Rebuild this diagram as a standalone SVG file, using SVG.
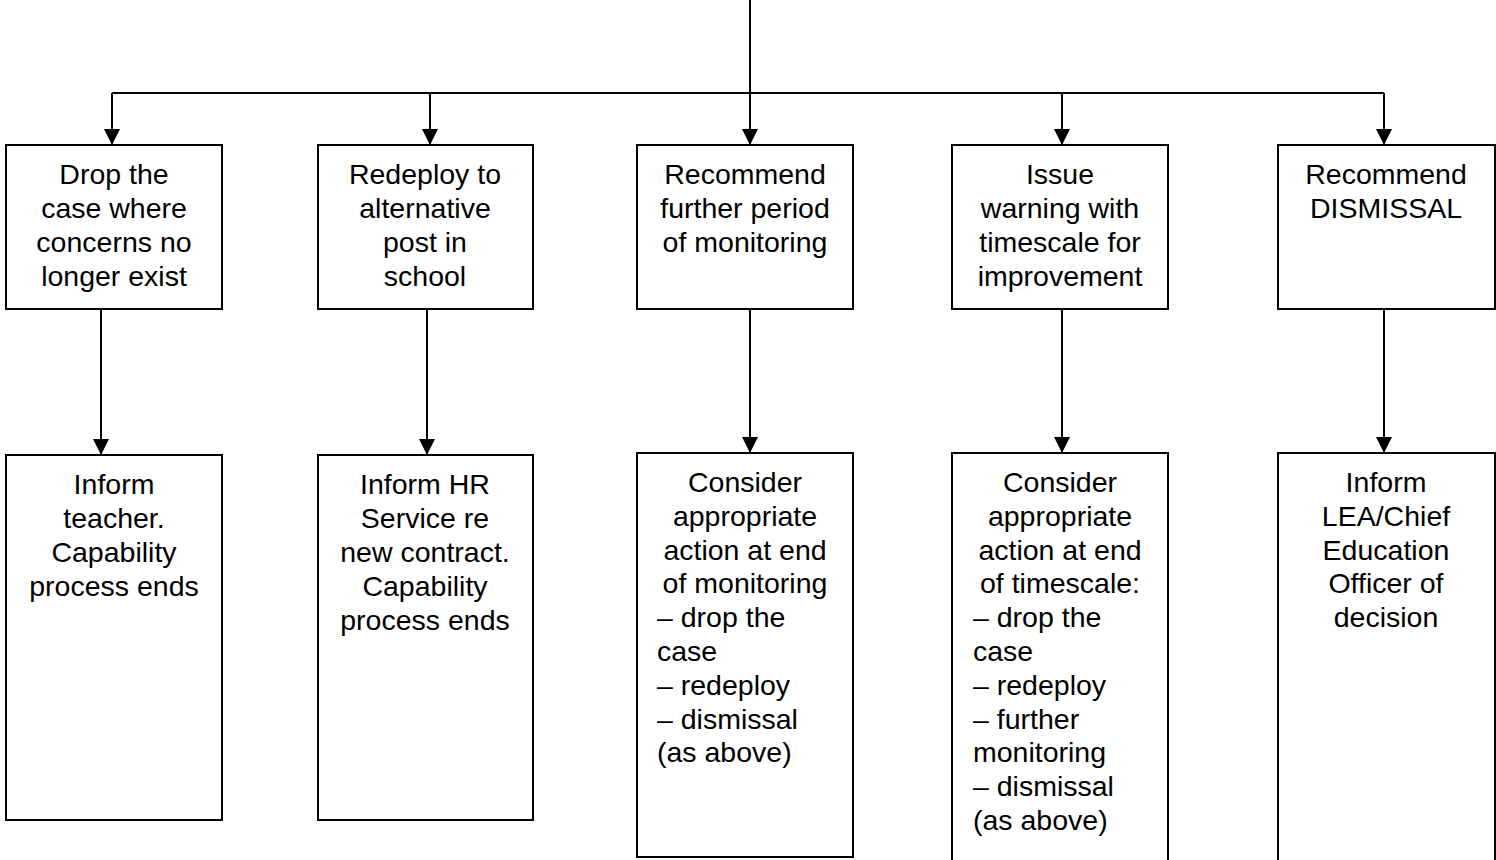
<svg xmlns="http://www.w3.org/2000/svg" width="1496" height="860" viewBox="0 0 1496 860">
<style>
rect.box { fill: #ffffff; stroke: #000000; stroke-width: 2; }
.conn { fill: none; stroke: #000000; stroke-width: 2; }
text { font-family: "Liberation Sans", Arial, sans-serif; font-size: 28.5px; fill: #000000; }
.c { text-anchor: middle; }
</style>
<defs>
<marker id="arr" markerUnits="userSpaceOnUse" markerWidth="16" markerHeight="16" refX="16" refY="8" orient="auto">
<path d="M0,0 L16,8 L0,16 Z" fill="#000000"/>
</marker>
</defs>
<rect width="1496" height="860" fill="#ffffff"/>
<g id="connectors">
<path class="conn" d="M750,0 V145" marker-end="url(#arr)"/>
<path class="conn" d="M112,93 H1384"/>
<path class="conn" d="M112,93 V145" marker-end="url(#arr)"/>
<path class="conn" d="M430,93 V145" marker-end="url(#arr)"/>
<path class="conn" d="M1062,93 V145" marker-end="url(#arr)"/>
<path class="conn" d="M1384,93 V145" marker-end="url(#arr)"/>
<path class="conn" d="M101,309 V455" marker-end="url(#arr)"/>
<path class="conn" d="M427,309 V455" marker-end="url(#arr)"/>
<path class="conn" d="M750,309 V453" marker-end="url(#arr)"/>
<path class="conn" d="M1062,309 V453" marker-end="url(#arr)"/>
<path class="conn" d="M1384,309 V453" marker-end="url(#arr)"/>
</g>
<g id="drop">
<rect class="box" x="6" y="145" width="216" height="164"/>
<text class="c" x="114" y="184">Drop the</text>
<text class="c" x="114" y="218">case where</text>
<text class="c" x="114" y="252">concerns no</text>
<text class="c" x="114" y="286">longer exist</text>
</g>
<g id="redeploy">
<rect class="box" x="318" y="145" width="215" height="164"/>
<text class="c" x="425" y="184">Redeploy to</text>
<text class="c" x="425" y="218">alternative</text>
<text class="c" x="425" y="252">post in</text>
<text class="c" x="425" y="286">school</text>
</g>
<g id="monitor">
<rect class="box" x="637" y="145" width="216" height="164"/>
<text class="c" x="745" y="184">Recommend</text>
<text class="c" x="745" y="218">further period</text>
<text class="c" x="745" y="252">of monitoring</text>
</g>
<g id="warning">
<rect class="box" x="952" y="145" width="216" height="164"/>
<text class="c" x="1060" y="184">Issue</text>
<text class="c" x="1060" y="218">warning with</text>
<text class="c" x="1060" y="252">timescale for</text>
<text class="c" x="1060" y="286">improvement</text>
</g>
<g id="dismissal">
<rect class="box" x="1278" y="145" width="217" height="164"/>
<text class="c" x="1386" y="184">Recommend</text>
<text class="c" x="1386" y="218">DISMISSAL</text>
</g>
<g id="inform-teacher">
<rect class="box" x="6" y="455" width="216" height="365"/>
<text class="c" x="114" y="494">Inform</text>
<text class="c" x="114" y="528">teacher.</text>
<text class="c" x="114" y="562">Capability</text>
<text class="c" x="114" y="596">process ends</text>
</g>
<g id="inform-hr">
<rect class="box" x="318" y="455" width="215" height="365"/>
<text class="c" x="425" y="494">Inform HR</text>
<text class="c" x="425" y="528">Service re</text>
<text class="c" x="425" y="562">new contract.</text>
<text class="c" x="425" y="596">Capability</text>
<text class="c" x="425" y="630">process ends</text>
</g>
<g id="consider-monitoring">
<rect class="box" x="637" y="453" width="216" height="404"/>
<text class="c" x="745" y="492">Consider</text>
<text class="c" x="745" y="526">appropriate</text>
<text class="c" x="745" y="560">action at end</text>
<text class="c" x="745" y="593">of monitoring</text>
<text x="657" y="627">– drop the</text>
<text x="657" y="661">case</text>
<text x="657" y="695">– redeploy</text>
<text x="657" y="729">– dismissal</text>
<text x="657" y="762">(as above)</text>
</g>
<g id="consider-timescale">
<rect class="box" x="952" y="453" width="216" height="420"/>
<text class="c" x="1060" y="492">Consider</text>
<text class="c" x="1060" y="526">appropriate</text>
<text class="c" x="1060" y="560">action at end</text>
<text class="c" x="1060" y="593">of timescale:</text>
<text x="973" y="627">– drop the</text>
<text x="973" y="661">case</text>
<text x="973" y="695">– redeploy</text>
<text x="973" y="729">– further</text>
<text x="973" y="762">monitoring</text>
<text x="973" y="796">– dismissal</text>
<text x="973" y="830">(as above)</text>
</g>
<g id="inform-lea">
<rect class="box" x="1278" y="453" width="217" height="420"/>
<text class="c" x="1386" y="492">Inform</text>
<text class="c" x="1386" y="526">LEA/Chief</text>
<text class="c" x="1386" y="560">Education</text>
<text class="c" x="1386" y="593">Officer of</text>
<text class="c" x="1386" y="627">decision</text>
</g>
</svg>
